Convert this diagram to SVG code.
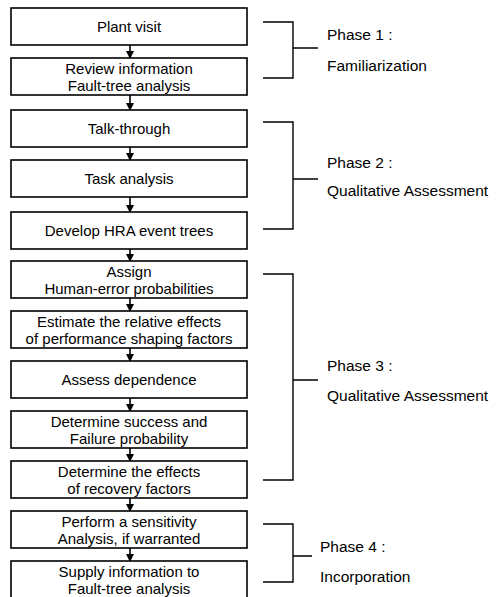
<svg xmlns="http://www.w3.org/2000/svg" width="500" height="597" viewBox="0 0 500 597">
<defs>
<style>
.box{fill:#fff;stroke:#000;stroke-width:1.6}
.t{font-family:"Liberation Sans",Arial,sans-serif;font-size:15px;fill:#000;text-anchor:middle}
.p{font-family:"Liberation Sans",Arial,sans-serif;font-size:15.5px;fill:#000}
.ln{fill:none;stroke:#000;stroke-width:1.6}
.br{fill:none;stroke:#000;stroke-width:1.4}
</style>
<marker id="ah" markerWidth="8" markerHeight="8" refX="7" refY="4" orient="auto" markerUnits="userSpaceOnUse">
<path d="M0,0 L8,4 L0,8 Z" fill="#000"/>
</marker>
</defs>
<rect width="500" height="597" fill="#fff"/>
<g id="connectors">
<line class="ln" x1="130" y1="45" x2="130" y2="58" marker-end="url(#ah)"/>
<line class="ln" x1="130" y1="95" x2="130" y2="110" marker-end="url(#ah)"/>
<line class="ln" x1="130" y1="147" x2="130" y2="160" marker-end="url(#ah)"/>
<line class="ln" x1="130" y1="197" x2="130" y2="212" marker-end="url(#ah)"/>
<line class="ln" x1="130" y1="249" x2="130" y2="261" marker-end="url(#ah)"/>
<line class="ln" x1="130" y1="298" x2="130" y2="311" marker-end="url(#ah)"/>
<line class="ln" x1="130" y1="348" x2="130" y2="361" marker-end="url(#ah)"/>
<line class="ln" x1="130" y1="398" x2="130" y2="411" marker-end="url(#ah)"/>
<line class="ln" x1="130" y1="448" x2="130" y2="461" marker-end="url(#ah)"/>
<line class="ln" x1="130" y1="498" x2="130" y2="511" marker-end="url(#ah)"/>
<line class="ln" x1="130" y1="548" x2="130" y2="561" marker-end="url(#ah)"/>
</g>
<g id="n1"><rect class="box" x="11" y="8" width="236" height="37"/><text class="t" x="129" y="32">Plant visit</text></g>
<g id="n2"><rect class="box" x="11" y="58" width="236" height="37"/><text class="t" x="129" y="74">Review information</text><text class="t" x="129" y="91">Fault-tree analysis</text></g>
<g id="n3"><rect class="box" x="11" y="110" width="236" height="37"/><text class="t" x="129" y="134">Talk-through</text></g>
<g id="n4"><rect class="box" x="11" y="160" width="236" height="37"/><text class="t" x="129" y="184">Task analysis</text></g>
<g id="n5"><rect class="box" x="11" y="212" width="236" height="37"/><text class="t" x="129" y="236">Develop HRA event trees</text></g>
<g id="n6"><rect class="box" x="11" y="261" width="236" height="37"/><text class="t" x="129" y="277">Assign</text><text class="t" x="129" y="294">Human-error probabilities</text></g>
<g id="n7"><rect class="box" x="11" y="311" width="236" height="37"/><text class="t" x="129" y="327">Estimate the relative effects</text><text class="t" x="129" y="344">of performance shaping factors</text></g>
<g id="n8"><rect class="box" x="11" y="361" width="236" height="37"/><text class="t" x="129" y="385">Assess dependence</text></g>
<g id="n9"><rect class="box" x="11" y="411" width="236" height="37"/><text class="t" x="129" y="427">Determine success and</text><text class="t" x="129" y="444">Failure probability</text></g>
<g id="n10"><rect class="box" x="11" y="461" width="236" height="37"/><text class="t" x="129" y="477">Determine the effects</text><text class="t" x="129" y="494">of recovery factors</text></g>
<g id="n11"><rect class="box" x="11" y="511" width="236" height="37"/><text class="t" x="129" y="527">Perform a sensitivity</text><text class="t" x="129" y="544">Analysis, if warranted</text></g>
<g id="n12"><rect class="box" x="11" y="561" width="236" height="37"/><text class="t" x="129" y="577">Supply information to</text><text class="t" x="129" y="594">Fault-tree analysis</text></g>
<g id="phase1"><path class="br" d="M263,22 H293 V78 H263 M293,48 H318"/><text class="p" x="327" y="40">Phase 1 :</text><text class="p" x="327" y="71">Familiarization</text></g>
<g id="phase2"><path class="br" d="M263,122 H293 V229 H263 M293,179 H318"/><text class="p" x="327" y="168">Phase 2 :</text><text class="p" x="327" y="196">Qualitative Assessment</text></g>
<g id="phase3"><path class="br" d="M263,274 H293 V480 H263 M293,380 H318"/><text class="p" x="327" y="371">Phase 3 :</text><text class="p" x="327" y="401">Qualitative Assessment</text></g>
<g id="phase4"><path class="br" d="M263,524 H293 V582 H263 M293,556 H312"/><text class="p" x="320" y="552">Phase 4 :</text><text class="p" x="320" y="582">Incorporation</text></g>
</svg>
